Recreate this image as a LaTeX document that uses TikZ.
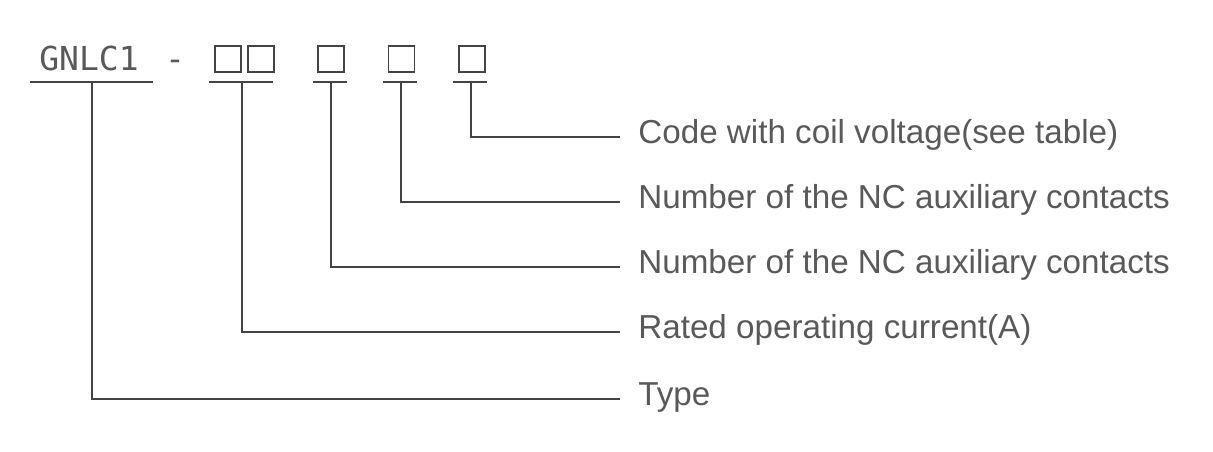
\documentclass[tikz,border=0pt]{standalone}
\usepackage{fontspec}
\setmainfont{Liberation Sans}
\setmonofont{DejaVu Sans Mono}
\usetikzlibrary{positioning}
\definecolor{linegray}{HTML}{444444}
\definecolor{textgray}{HTML}{595959}
\tikzset{
  codebox/.style={draw=linegray,line width=0.035cm,minimum size=0.52cm,inner sep=0pt},
  codeline/.style={draw=linegray,line width=0.04cm},
  codetext/.style={text=textgray,inner sep=0pt,anchor=base,font=\ttfamily\fontsize{18.8}{20}\selectfont},
  desc/.style={anchor=west,inner sep=0pt,text=textgray,font=\fontsize{18.9}{20}\selectfont,
    text height=0.46cm,text depth=0.20cm}
}
\begin{document}
\begin{tikzpicture}[x=0.02cm,y=-0.02cm]
  \useasboundingbox (0,0) rectangle (1213,452);
  % model code
  \node[codetext] (gnlc) at (89,71) {GNLC1};
  \node[codetext] (dash) at (175,71) {-};
  \node[codebox] (b1) at (228,59) {};
  \node[codebox] (b2) at (261,59) {};
  \node[codebox] (b3) at (331,59) {};
  \node[codebox] (b4) at (401.5,59) {};
  \node[codebox] (b5) at (472,59) {};
  \draw[codeline] (30,82) -- (153,82);
  \draw[codeline] (209,82) -- (273,82);
  \draw[codeline] (313,82) -- (347,82);
  \draw[codeline] (383,82) -- (417,82);
  \draw[codeline] (453,82) -- (487,82);
  \coordinate (t0) at (92,82);
  \coordinate (t1) at (242,82);
  \coordinate (t2) at (331,82);
  \coordinate (t3) at (401,82);
  \coordinate (t4) at (471,82);
  % descriptions
  \node[desc] (coil) at (638,137) {Code with coil voltage(see table)};
  \node[desc] (nc1) at (638,202) {Number of the NC auxiliary contacts};
  \node[desc] (nc2) at (638,267) {Number of the NC auxiliary contacts};
  \node[desc] (rated) at (638,332) {Rated operating current(A)};
  \node[desc] (type) at (638,399) {Type};
  \draw[codeline] (t4) |- ([xshift=-0.36cm]coil.west);
  \draw[codeline] (t3) |- ([xshift=-0.36cm]nc1.west);
  \draw[codeline] (t2) |- ([xshift=-0.36cm]nc2.west);
  \draw[codeline] (t1) |- ([xshift=-0.36cm]rated.west);
  \draw[codeline] (t0) |- ([xshift=-0.36cm]type.west);
\end{tikzpicture}
\end{document}
